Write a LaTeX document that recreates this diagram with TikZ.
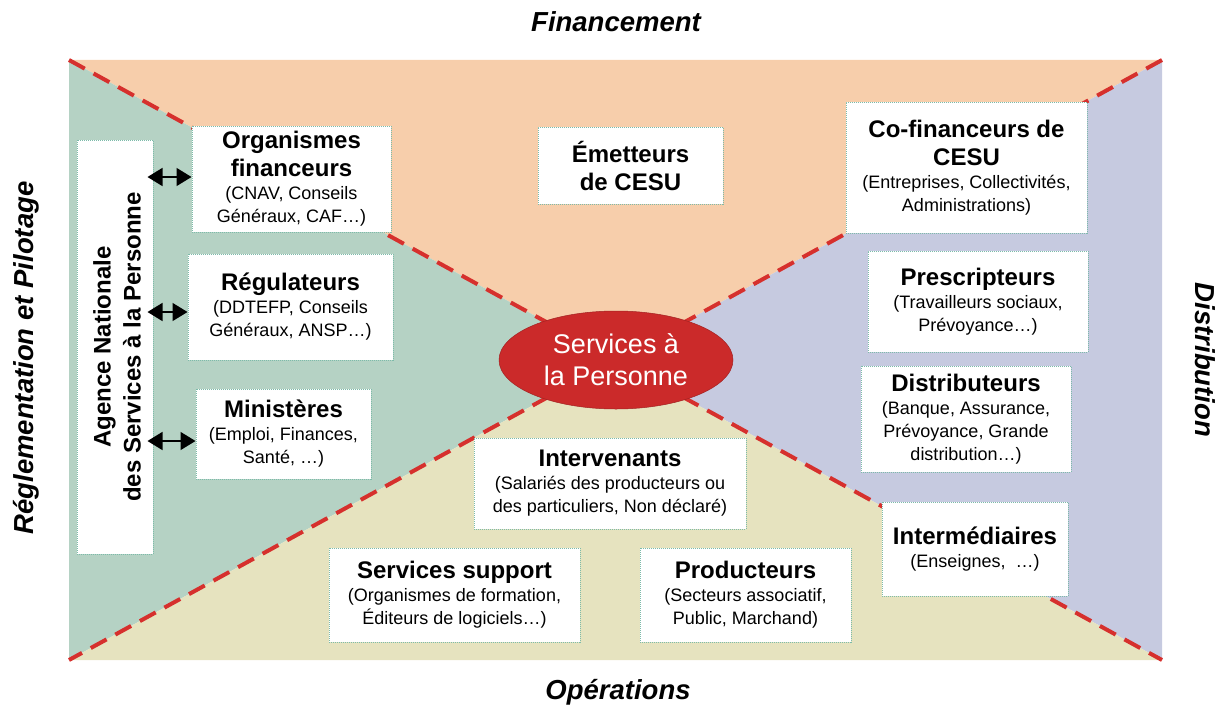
\documentclass[tikz,border=0pt]{standalone}
\usepackage{fontspec}
\setmainfont{Liberation Sans}
\usetikzlibrary{shapes.geometric,arrows.meta}
\definecolor{cfin}{HTML}{F7CEAB}
\definecolor{creg}{HTML}{B5D2C4}
\definecolor{cdis}{HTML}{C6CAE0}
\definecolor{cope}{HTML}{E6E3BF}
\definecolor{cred}{HTML}{D6302D}
\definecolor{cell}{HTML}{CB2A2A}
\definecolor{boxc}{HTML}{7DBBAA}
\newcommand\bt[1]{{\fontsize{24}{28}\selectfont\bfseries #1\par}}
\newcommand\stx[1]{{\fontsize{18}{23}\selectfont #1\par}}
\begin{document}
\begin{tikzpicture}[x=1pt,y=-1pt,
  box/.style 2 args={draw=boxc, line width=1pt, dash pattern=on 1pt off 1pt, fill=white,
    inner sep=0pt, align=flush center, minimum width=#1, text width=#1, minimum height=#2},
  sep/.style={draw=cred, line width=4pt, dash pattern=on 18pt off 10pt},
  biarrow/.style={line width=1.5pt, {Triangle[length=15pt,width=18pt]}-{Triangle[length=15pt,width=18pt]}},
  axis/.style={font=\fontsize{27.5}{32}\selectfont\bfseries\itshape}]
\useasboundingbox (0,0) rectangle (1225,709);
% corners
\coordinate (tl) at (69,60);
\coordinate (tr) at (1162,60);
\coordinate (bl) at (69,660);
\coordinate (br) at (1162,660);
\coordinate (c) at (615.5,360);
% regions
\fill[cfin] (tl) -- (tr) -- (c) -- cycle;
\fill[creg] (tl) -- (c) -- (bl) -- cycle;
\fill[cdis] (tr) -- (br) -- (c) -- cycle;
\fill[cope] (bl) -- (br) -- (c) -- cycle;
\draw[sep] (tl) -- (br);
\draw[sep] (tr) -- (bl);
% axis titles
\node[axis] (fin) at (616,22) {Financement};
\node[axis] (ope) at (618,692) {Opérations};
\node[axis, rotate=90] (reg) at (26,358) {Réglementation et Pilotage};
\node[axis, rotate=-90] (dis) at (1205,360) {Distribution};
% agence
\node[draw=boxc, line width=1pt, dash pattern=on 1pt off 1pt, fill=white, inner sep=0pt,
  minimum width=76pt, minimum height=414pt] (agence) at (115,347) {};
\node[rotate=90, align=center, font=\fontsize{24}{30}\selectfont\bfseries] (agtxt) at (117,347)
  {Agence Nationale\\des Services à la Personne};
% left boxes
\node[box={199pt}{106pt}] (orgfin) at (291.5,179)
  {\bt{Organismes\\financeurs}\stx{(CNAV, Conseils\\Généraux, CAF…)}};
\node[box={205pt}{106pt}] (regul) at (290.5,307)
  {\bt{Régulateurs}\stx{(DDTEFP, Conseils\\Généraux, ANSP…)}};
\node[box={175pt}{90pt}] (minis) at (283.5,434)
  {\bt{Ministères}\stx{(Emploi, Finances,\\Santé, …)}};
% top
\node[box={185pt}{77pt}] (emet) at (630.5,165.5) {\bt{Émetteurs\\de CESU}};
% right boxes
\node[box={241pt}{131pt}] (cofin) at (966.5,167.5)
  {\bt{Co-financeurs de\\CESU}\stx{(Entreprises, Collectivités,\\Administrations)}};
\node[box={220pt}{101pt}] (presc) at (978,301.5)
  {\bt{Prescripteurs}\stx{(Travailleurs sociaux,\\Prévoyance…)}};
\node[box={210pt}{106pt}] (distr) at (966,419)
  {\bt{Distributeurs}\stx{(Banque, Assurance,\\Prévoyance, Grande\\distribution…)}};
\node[box={186pt}{94pt}] (interm) at (975,549)
  {\bt{Intermédiaires}\stx{(Enseignes,~ …)}};
% bottom boxes
\node[box={272pt}{91pt}] (interv) at (610,483.5)
  {\bt{Intervenants}\stx{(Salariés des producteurs ou\\des particuliers, Non déclaré)}};
\node[box={251pt}{94pt}] (servsup) at (454.5,595)
  {\bt{Services support}\stx{(Organismes de formation,\\Éditeurs de logiciels…)}};
\node[box={211pt}{94pt}] (produc) at (745.5,595)
  {\bt{Producteurs}\stx{(Secteurs associatif,\\Public, Marchand)}};
% centre
\node[ellipse, fill=cell, draw=cell!80!black, line width=0.5pt, minimum width=234pt, minimum height=98pt,
  inner sep=0pt, align=center, text=white, font=\fontsize{27}{32}\selectfont] (sap) at (616,360)
  {Services à\\la Personne};
% arrows
\draw[biarrow] ([shift={(-6pt,2pt)}]agence.east |- orgfin.west) -- ([yshift=2pt]orgfin.west);
\draw[biarrow] ([shift={(-6pt,-5pt)}]agence.east |- regul.west) -- ([yshift=-5pt]regul.west);
\draw[biarrow] ([shift={(-6pt,-7pt)}]agence.east |- minis.west) -- ([yshift=-7pt]minis.west);
\end{tikzpicture}
\end{document}
